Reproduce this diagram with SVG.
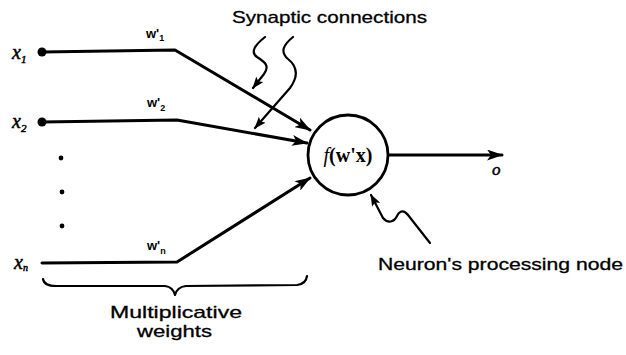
<svg xmlns="http://www.w3.org/2000/svg" width="626" height="355" viewBox="0 0 626 355">
<style>
.ln{fill:none;stroke:#000;stroke-width:3;stroke-linecap:round;stroke-linejoin:round}
.sq{fill:none;stroke:#000;stroke-width:2.2;stroke-linecap:round;stroke-linejoin:round}
.lbl{font-family:"Liberation Sans",Arial,sans-serif;fill:#000;stroke:#000;stroke-width:0.3}
.var{font-family:"Liberation Serif","Times New Roman",serif;font-style:italic;fill:#000;stroke:#000;stroke-width:0.5}
.w{font-family:"Liberation Sans",Arial,sans-serif;font-weight:bold;fill:#000;font-size:13px}
</style>
<defs>
<marker id="ah" viewBox="0 0 16 11" refX="15" refY="5.5" markerWidth="16" markerHeight="11" markerUnits="userSpaceOnUse" orient="auto">
<path d="M0,0 L16,5.5 L0,11 L4,5.5 Z" fill="#000"/>
</marker>
<marker id="ahs" viewBox="0 0 12 9" refX="11" refY="4.5" markerWidth="12" markerHeight="9" markerUnits="userSpaceOnUse" orient="auto">
<path d="M0,0 L12,4.5 L0,9 L2.5,4.5 Z" fill="#000"/>
</marker>
</defs>

<g id="connectors">
<path class="ln" d="M42,52 L175,50 L310,130" marker-end="url(#ah)"/>
<path class="ln" d="M42,122 L177,120 L307,143" marker-end="url(#ah)"/>
<path class="ln" d="M42,263 L177,262 L310,178" marker-end="url(#ah)"/>
<path class="ln" d="M388,155 L502,155" stroke-width="3.2" marker-end="url(#ah)"/>
<path class="sq" d="M265,37 C255,45 250,52 257,57 C265,62 270,66 264,74 L253,88" marker-end="url(#ahs)"/>
<path class="sq" d="M293,37 C283,45 280,52 288,59 C298,67 298,77 290,88 L255,128" marker-end="url(#ahs)"/>
<path class="sq" d="M430,243 L408,215 C404,210 400,210 397,216 C394,222 388,224 383,218 L371,195" marker-end="url(#ahs)"/>
<path class="sq" d="M43,279 Q44,286 56,286 L165,286 Q173,287 175,295 Q177,287 186,286 L297,285 Q306,284 307,276"/>
</g>

<g id="input-x1">
<circle cx="42" cy="52" r="4.5"/>
<text class="var" x="12" y="59" font-size="20">x<tspan font-size="11" dy="4">1</tspan></text>
<text class="w" x="146" y="38">w'<tspan font-size="9" dy="3">1</tspan></text>
</g>
<g id="input-x2">
<circle cx="42" cy="122" r="4.5"/>
<text class="var" x="12" y="128" font-size="20">x<tspan font-size="11" dy="4">2</tspan></text>
<text class="w" x="147" y="107">w'<tspan font-size="9" dy="4">2</tspan></text>
</g>
<g id="ellipsis">
<circle cx="61" cy="158" r="2.4"/>
<circle cx="62" cy="192" r="2.4"/>
<circle cx="62" cy="226" r="2.4"/>
</g>
<g id="input-xn">
<text class="var" x="14" y="269" font-size="20">x<tspan font-size="10" dy="2">n</tspan></text>
<text class="w" x="147" y="250">w'<tspan font-size="9" dy="4">n</tspan></text>
</g>

<g id="neuron">
<circle cx="348" cy="155" r="40" fill="#fff" stroke="#000" stroke-width="2.8"/>
<text x="348" y="162" text-anchor="middle" font-size="20" font-family="Liberation Serif,serif" font-weight="bold"><tspan font-style="italic" font-weight="normal">f</tspan>(w'x)</text>
</g>

<g id="output">
<text class="var" x="492" y="175" font-size="17">o</text>
</g>

<g id="labels">
<text class="lbl" x="232" y="23" font-size="17" textLength="195" lengthAdjust="spacingAndGlyphs">Synaptic connections</text>
<text class="lbl" x="378" y="270" font-size="16" textLength="245" lengthAdjust="spacingAndGlyphs">Neuron's processing node</text>
<text class="lbl" x="110" y="318" font-size="17" textLength="132" lengthAdjust="spacingAndGlyphs">Multiplicative</text>
<text class="lbl" x="137" y="337" font-size="17" textLength="75" lengthAdjust="spacingAndGlyphs">weights</text>
</g>
</svg>
